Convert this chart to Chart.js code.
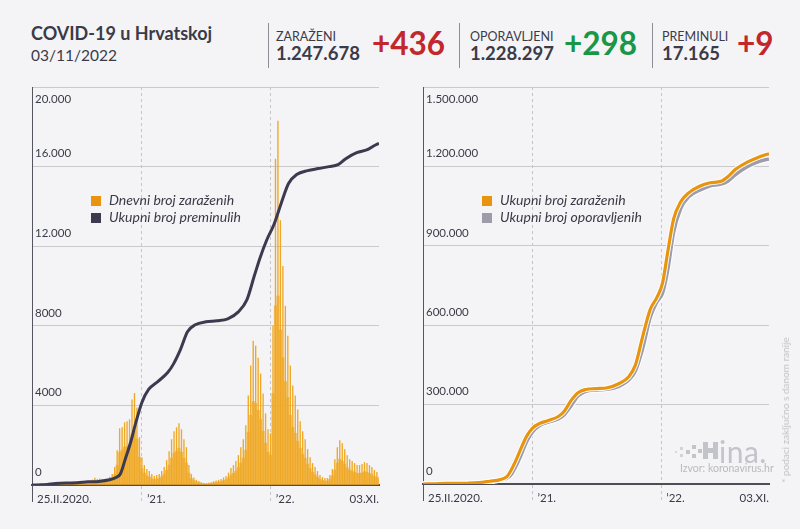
<!DOCTYPE html>
<html><head><meta charset="utf-8">
<script src="https://cdn.jsdelivr.net/npm/chart.js@4.4.0/dist/chart.umd.min.js"></script>
<style>
body{margin:0;background:#f4f4f6;}
#wrap{position:relative;width:800px;height:529px;overflow:hidden;background:#f4f4f6;font-family:Lato,'Open Sans',sans-serif;color:#3b3b48;}
.a{position:absolute;white-space:nowrap;line-height:1.2;}
.sep{position:absolute;top:23px;width:1px;height:45px;background:#8e8e96;}
.lab{font-size:12.5px;}
.num{font-size:18.5px;font-weight:bold;}
.big{font-size:31.5px;font-weight:bold;}
.leg{position:absolute;font-style:italic;font-size:14px;color:#3b3b48;}
.leg .row{height:17.4px;line-height:17.4px;white-space:nowrap;}
.leg .sq{display:inline-block;width:10px;height:10px;margin-right:8px;vertical-align:-1px;}
.px{position:absolute;background:#c3c3ca;}
canvas{position:absolute;top:75px;}
</style></head>
<body><div id="wrap">
<div class="a" style="left:31px;top:23px;font-size:18px;font-weight:bold;">COVID-19 u Hrvatskoj</div>
<div class="a" style="left:31px;top:46px;font-size:15.5px;">03/11/2022</div>

<div class="sep" style="left:268px"></div>
<div class="a lab" style="left:276px;top:29px;">ZARAŽENI</div>
<div class="a num" style="left:276px;top:42px;">1.247.678</div>
<div class="a big" style="left:372px;top:25px;color:#c1272d;">+436</div>

<div class="sep" style="left:459px"></div>
<div class="a lab" style="left:470px;top:29px;">OPORAVLJENI</div>
<div class="a num" style="left:470px;top:42px;">1.228.297</div>
<div class="a big" style="left:564px;top:25px;color:#1a9645;">+298</div>

<div class="sep" style="left:652px"></div>
<div class="a lab" style="left:662px;top:29px;">PREMINULI</div>
<div class="a num" style="left:662px;top:42px;">17.165</div>
<div class="a big" style="left:737px;top:25px;color:#c1272d;">+9</div>

<canvas id="c1" width="400" height="454" style="left:0"></canvas>
<canvas id="c2" width="400" height="454" style="left:400px"></canvas>

<div class="leg" style="left:91px;top:190.5px">
 <div class="row"><span class="sq" style="background:#e8940f"></span>Dnevni broj zaraženih</div>
 <div class="row"><span class="sq" style="background:#3d3a4f"></span>Ukupni broj preminulih</div>
</div>
<div class="leg" style="left:482px;top:190.5px">
 <div class="row"><span class="sq" style="background:#e8940f"></span>Ukupni broj zaraženih</div>
 <div class="row"><span class="sq" style="background:#9d9ca8"></span>Ukupni broj oporavljenih</div>
</div>

<!-- hina logo -->
<div class="px" style="left:675px;top:451px;width:2px;height:2px;opacity:.6"></div>
<div class="px" style="left:680px;top:447px;width:3px;height:3px;opacity:.7"></div>
<div class="px" style="left:680px;top:454px;width:3px;height:3px;opacity:.7"></div>
<div class="px" style="left:686px;top:450px;width:4px;height:4px;"></div>
<div class="px" style="left:692px;top:445px;width:4px;height:4px;"></div>
<div class="px" style="left:692px;top:454px;width:4px;height:4px;"></div>
<div class="px" style="left:698px;top:449px;width:4px;height:4px;"></div>
<div class="px" style="left:703px;top:442px;width:5px;height:17px;"></div>
<div class="px" style="left:708px;top:448px;width:5px;height:5px;"></div>
<div class="px" style="left:713px;top:442px;width:5px;height:17px;"></div>
<div class="a" style="left:719px;top:433px;font-size:30px;color:#c3c3ca;letter-spacing:0.5px;">ina.</div>
<div class="a" style="left:680px;top:462px;font-size:10.5px;color:#b9b9c0;">Izvor: koronavirus.hr</div>
<div class="a" style="left:785px;top:410px;font-size:10px;color:#c2c2c8;transform:translate(-50%,-50%) rotate(-90deg);">* podaci zaključno s danom ranije</div>
</div>

<script>
// ---------- DATA ----------
// x-axis ticks
const xTickDates = ['2020-02-25', '2021-01-01', '2022-01-01', '2022-11-03'];
const xTickLabels = ['25.II.2020.', '\u201921.', '\u201922.', '03.XI.'];
// left y-axis
const leftTickValues = [0, 4000, 8000, 12000, 16000, 20000];
const leftTickLabels = ['0', '4000', '8000', '12.000', '16.000', '20.000'];
// right y-axis
const rightTickValues = [0, 300000, 600000, 900000, 1200000, 1500000];
const rightTickLabels = ['0', '300.000', '600.000', '900.000', '1.200.000', '1.500.000'];

// daily new cases, per week (from 25.II.2020): weekly high day and weekly low day
const casesWeekHigh = [3,5,20,90,95,96,75,60,40,25,10,8,5,3,4,15,45,100,95,140,
  120,110,130,180,270,370,310,330,290,260,300,420,550,900,1750,2850,2900,3150,3200,3300,
  4300,4620,3900,2400,1400,1000,800,700,550,450,500,550,700,900,1250,1700,2300,2700,2900,3100,
  2800,2300,1900,1000,550,380,260,200,140,100,90,110,140,190,230,260,300,380,450,620,
  850,1000,1200,1500,1900,2300,3000,4500,6000,7250,7000,6400,5600,4600,3600,2800,2600,8000,16400,18300,
  13300,11000,9000,7500,6000,5000,4500,3800,3200,2700,2300,1800,1400,1100,900,700,500,400,350,350,
  500,800,1300,1900,2250,2100,1800,1500,1300,1200,1100,1000,1000,1050,1150,1100,1000,900,750,650,450];
const casesWeekLow = [1,2,10,50,55,60,45,35,22,14,5,4,2,1,2,8,25,55,60,80,
  70,65,75,105,160,220,190,195,170,155,175,240,320,520,1000,1650,1750,1900,1950,2000,
  2550,2750,2300,1400,820,600,470,410,320,270,300,330,420,530,740,1000,1350,1600,1700,1850,
  1650,1350,1100,600,320,220,150,115,80,58,52,64,80,110,135,150,175,220,260,360,
  500,590,700,880,1100,1350,1750,2650,3500,4200,4100,3750,3300,2700,2100,1650,1500,4600,9000,9500,
  7800,6400,5200,4400,3500,2900,2600,2200,1850,1550,1350,1050,820,640,520,400,290,230,200,200,
  290,460,750,1100,1300,1200,1050,870,750,700,640,580,580,610,670,640,580,520,430,380,300];

// total deaths
const deathDates = ['2020-02-25','2020-04-01','2020-05-01','2020-06-01','2020-07-01','2020-08-01','2020-09-01','2020-10-01',
  '2020-10-20','2020-11-01','2020-11-15','2020-12-01','2020-12-15','2021-01-01','2021-01-20','2021-02-15','2021-03-15',
  '2021-04-01','2021-04-20','2021-05-10','2021-06-01','2021-07-01','2021-08-01','2021-09-01','2021-10-01','2021-10-25',
  '2021-11-15','2021-12-01','2021-12-20','2022-01-10','2022-01-31','2022-02-20','2022-03-15','2022-04-15','2022-05-15',
  '2022-06-15','2022-07-10','2022-08-01','2022-09-01','2022-10-01','2022-10-20','2022-11-03'];
const deathTotals = [0,10,80,103,110,160,180,260,
  380,550,1300,2200,3150,4150,4800,5200,5650,
  6100,6800,7700,8050,8200,8250,8350,8700,9300,
  10500,11400,12300,13100,14200,15150,15600,15800,15900,
  16000,16100,16400,16700,16850,17050,17165];

// total cases and total recovered
const caseDates = ['2020-02-25','2020-04-01','2020-05-01','2020-06-01','2020-07-01','2020-08-01','2020-09-01','2020-10-01',
  '2020-10-20','2020-11-01','2020-11-15','2020-12-01','2020-12-15','2021-01-01','2021-01-20','2021-02-15','2021-03-15',
  '2021-04-01','2021-04-20','2021-05-10','2021-06-01','2021-07-01','2021-08-01','2021-09-01','2021-10-01','2021-10-20',
  '2021-11-10','2021-12-01','2021-12-20','2022-01-05','2022-01-20','2022-02-05','2022-02-25','2022-03-20','2022-04-20',
  '2022-05-20','2022-06-20','2022-07-10','2022-08-01','2022-09-01','2022-10-01','2022-10-20','2022-11-03'];
const totalCases = [0,1000,2100,2250,2900,5000,10500,16500,
  28000,52000,90000,140000,180000,211000,228000,240000,255000,
  275000,315000,345000,357000,360500,363500,378000,405000,450000,
  560000,660000,705000,760000,880000,1000000,1065000,1100000,1125000,
  1138000,1144000,1162000,1190000,1215000,1233000,1242000,1247678];
const totalRecovered = [0,200,1600,2100,2250,4000,8500,15000,
  22000,35000,68000,115000,160000,197000,220000,234000,246000,
  262000,295000,332000,350000,355500,357500,368000,393000,428000,
  515000,630000,688000,722000,812000,950000,1040000,1085000,1110000,
  1127000,1133000,1145000,1170000,1198000,1216000,1224000,1228297];

// ---------- CHARTS ----------
const DAY0 = Date.UTC(2020, 1, 25);
const dayOf = s => { const p = s.split('-').map(Number); return Math.round((Date.UTC(p[0], p[1]-1, p[2]) - DAY0) / 86400000); };
const xTickDays = xTickDates.map(dayOf);
const lastDay = xTickDays[xTickDays.length - 1];
const weekPts = arr => arr.map((v, k) => ({x: 7*k + 3, y: v}));
const datePts = (dates, vals) => dates.map((d, i) => ({x: dayOf(d), y: vals[i]}));

Chart.defaults.font.family = 'Lato';
Chart.defaults.animation = false;
const FONT = {family: 'Lato', size: 11.5};
const TXT = '#3b3b48';
const GRID = '#c9c9ce';
const DASH = '#c4c4ca';

function xScales(h) {
  return {
    x: {
      type: 'linear', axis: 'x', position: 'bottom', min: 0, max: lastDay, offset: false,
      afterBuildTicks: s => { s.ticks = xTickDays.slice(0, 3).map(v => ({value: v})); },
      afterFit: s => { s.height = h; },
      ticks: {align: 'start', labelOffset: 5, padding: -10, color: TXT, font: FONT, maxRotation: 0, autoSkip: false,
        callback: v => xTickLabels[xTickDays.indexOf(v)]},
      grid: {offset: false, drawTicks: true, tickLength: 17, lineWidth: 1, tickWidth: 1,
        color: c => (c.index === 0 ? 'rgba(0,0,0,0)' : DASH),
        tickColor: c => (c.index === 0 ? '#55555f' : DASH),
        tickBorderDash: c => (c.index === 0 ? [] : [3, 3])},
      border: {display: true, color: '#4d4d57', width: 2, dash: [3, 3]}
    },
    x2: {
      type: 'linear', axis: 'x', position: {y: 0}, min: 0, max: lastDay, offset: false,
      afterBuildTicks: s => { s.ticks = [{value: lastDay}]; },
      ticks: {align: 'end', padding: 7, color: TXT, font: FONT, maxRotation: 0, autoSkip: false,
        callback: () => xTickLabels[xTickLabels.length - 1]},
      grid: {display: false, drawTicks: false},
      border: {display: false}
    }
  };
}
function yScales(values, labels) {
  const top = values[values.length - 1];
  return {
    y: {
      type: 'linear', axis: 'y', position: 'left', min: 0, max: top,
      afterFit: s => { s.width = 0; },
      afterBuildTicks: s => { s.ticks = values.map(v => ({value: v})); },
      ticks: {mirror: true, padding: 3, labelOffset: -13, color: TXT, font: FONT,
        callback: v => (v === top ? '' : labels[values.indexOf(v)])},
      grid: {color: GRID, lineWidth: 1, drawTicks: false},
      border: {display: true, color: '#55555f', width: 1}
    },
    y2: {
      type: 'linear', axis: 'y', position: 'left', min: 0, max: top,
      afterFit: s => { s.width = 0; },
      afterBuildTicks: s => { s.ticks = [{value: top}]; },
      ticks: {mirror: true, padding: 3, labelOffset: 12, color: TXT, font: FONT,
        callback: () => labels[labels.length - 1]},
      grid: {display: false, drawTicks: false},
      border: {display: false}
    }
  };
}

new Chart(document.getElementById('c1'), {
  type: 'bar',
  data: {
    datasets: [
      {type: 'bar', data: weekPts(casesWeekLow), backgroundColor: 'rgba(241,172,44,0.78)', borderWidth: 0,
        grouped: false, barPercentage: 1, categoryPercentage: 1, order: 3},
      {type: 'bar', data: weekPts(casesWeekHigh), backgroundColor: '#efa826', borderWidth: 0,
        grouped: false, barPercentage: 0.55, categoryPercentage: 1, order: 2},
      {type: 'line', data: datePts(deathDates, deathTotals), borderColor: '#3d3a4f', borderWidth: 3,
        pointRadius: 0, cubicInterpolationMode: 'monotone', fill: false, order: 1}
    ]
  },
  options: {
    responsive: false, animation: false,
    layout: {padding: {left: 32, top: 12, right: 21, bottom: 0}},
    plugins: {legend: {display: false}, tooltip: {enabled: false}},
    scales: Object.assign(xScales(44), yScales(leftTickValues, leftTickLabels))
  }
});

new Chart(document.getElementById('c2'), {
  type: 'line',
  data: {
    datasets: [
      {data: datePts(caseDates, totalRecovered), borderColor: '#ffffff', borderWidth: 5.5, pointRadius: 0, cubicInterpolationMode: 'monotone', order: 4},
      {data: datePts(caseDates, totalRecovered), borderColor: '#9d9ca8', borderWidth: 3.5, pointRadius: 0, cubicInterpolationMode: 'monotone', order: 3},
      {data: datePts(caseDates, totalCases), borderColor: '#ffffff', borderWidth: 5, pointRadius: 0, cubicInterpolationMode: 'monotone', order: 2},
      {data: datePts(caseDates, totalCases), borderColor: '#e8940f', borderWidth: 3.2, pointRadius: 0, cubicInterpolationMode: 'monotone', order: 1}
    ]
  },
  options: {
    responsive: false, animation: false,
    layout: {padding: {left: 23, top: 12, right: 31, bottom: 0}},
    plugins: {legend: {display: false}, tooltip: {enabled: false}},
    scales: Object.assign(xScales(45), yScales(rightTickValues, rightTickLabels))
  }
});
</script>
</body></html>
